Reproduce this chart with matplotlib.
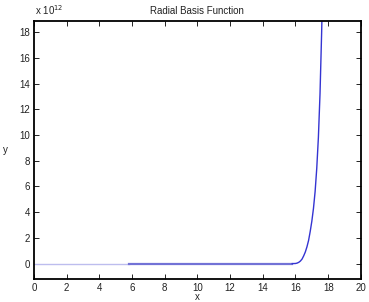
import matplotlib
matplotlib.use('Agg')
import matplotlib.pyplot as plt
from matplotlib.ticker import FuncFormatter

plt.rcParams['font.family'] = ['Liberation Sans', 'DejaVu Sans']

# faint first segment of the curve
x_faint = [0.0, 5.8]
y_faint = [0.0, 0.0]

# main curve, values
x_main = [5.8, 8.0, 10.0, 12.0, 14.0, 15.8, 16.0, 16.1, 16.2, 16.3, 16.4, 16.5, 16.6,
          16.7, 16.8, 16.9, 17.0, 17.1, 17.2, 17.3, 17.4, 17.5, 17.6, 17.65]
y_main = [0.0, 0.0, 0.0, 0.0, 0.0, 0.0, 0.01e12, 0.04e12, 0.1e12, 0.2e12, 0.35e12,
          0.6e12, 0.9e12, 1.3e12, 1.8e12, 2.5e12, 3.3e12, 4.3e12, 5.6e12, 7.4e12,
          9.8e12, 13.2e12, 18.0e12, 21.0e12]

xticks = list(range(0, 21, 2))
yticks = [v * 1e12 for v in range(0, 19, 2)]

txt = '#222222'
fig = plt.figure(figsize=(3.69, 3.02), dpi=100)
ax = fig.add_axes([0.092, 0.076, 0.886, 0.854])

ax.plot(x_faint, y_faint, color='#bdbdee', lw=1.0)
ax.plot(x_main[:6], y_main[:6], color='#7272d6', lw=1.6)
ax.plot(x_main[5:], y_main[5:], color='#3434d2', lw=1.0)

ax.set_xlim(0, 20)
ax.set_ylim(-1.2e12, 18.85e12)
ax.set_xticks(xticks)
ax.set_yticks(yticks)
ax.yaxis.set_major_formatter(FuncFormatter(lambda v, p: '%d' % round(v / 1e12)))
ax.tick_params(direction='in', top=True, right=True, labelsize=7, length=3.5, width=0.6,
               pad=3, labelcolor=txt)
for s in ax.spines.values():
    s.set_linewidth(1.3)

ax.set_title('Radial Basis Function', fontsize=7, pad=5, color=txt)
ax.set_xlabel('x', fontsize=7, labelpad=-1, color=txt)
ax.set_ylabel('y', fontsize=7, rotation=0, labelpad=10, va='center', color=txt)
fig.text(0.095, 0.945, r'x 10$^{12}$', fontsize=7, ha='left', va='bottom', color=txt)

fig.savefig('out.png', dpi=100)
